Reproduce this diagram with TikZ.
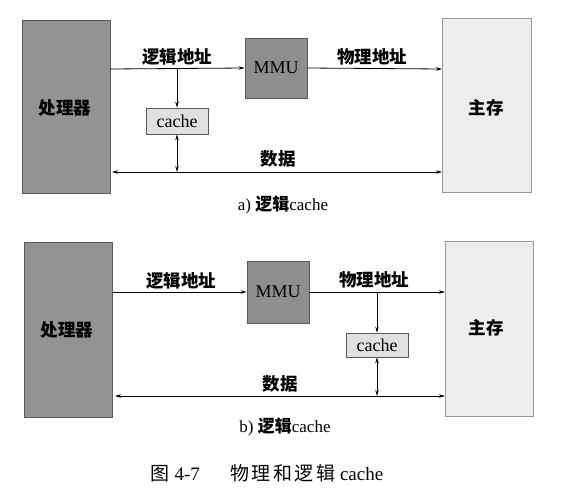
\documentclass[tikz,border=0pt]{standalone}
\usepackage{fontspec}
\setmainfont{Liberation Serif}
\newfontfamily\cjk{Noto Sans CJK SC}
\usetikzlibrary{arrows.meta}
\definecolor{dark}{HTML}{939393}
\definecolor{mmuc}{HTML}{8E8E8E}
\definecolor{light}{HTML}{EDEDED}
\definecolor{cachec}{HTML}{E0E0E0}
\tikzset{
  x=1pt,y=-1pt,
  proc/.style={draw=gray!70!black,fill=dark,line width=0.7pt},
  mem/.style={draw=gray!80,fill=light,line width=0.7pt},
  mmu/.style={draw=gray!70!black,fill=mmuc,line width=0.7pt},
  cbox/.style={draw=gray!70!black,fill=cachec,line width=0.7pt},
  conn/.style={line width=0.8pt,-{Stealth[length=6pt,width=3.5pt]}},
  biconn/.style={line width=0.8pt,{Stealth[length=6pt,width=3.5pt]}-{Stealth[length=6pt,width=3.5pt]}},
  lbl/.style={font=\fontsize{17.5}{19}\selectfont\cjk\bfseries},
  boxlbl/.style={font=\fontsize{17.5}{19}\selectfont\cjk\bfseries},
  lat/.style={font=\fontsize{18}{20}\selectfont},
  captxt/.style={font=\fontsize{17}{19}\selectfont},
}
\begin{document}
\begin{tikzpicture}
\useasboundingbox (0,0) rectangle (561,488);
% ---- a) ----
\path[proc] (22,20) rectangle (110,193);
\node[boxlbl] (pa) at (65,108) {处理器};
\coordinate (paR) at (110,69);
\coordinate (paRd) at (112,172);
\path[mem] (442,18) rectangle (531,192);
\node[boxlbl] (ma) at (486,108) {主存};
\coordinate (maL) at (442,69);
\coordinate (maLd) at (442,172);
\node[mmu,minimum width=62pt,minimum height=60pt,lat] (mmua) at (276,68) {MMU};
\node[cbox,minimum width=62pt,minimum height=26pt,lat] (ca) at (177,121) {cache};
\coordinate (ja) at (177,69);
\coordinate (jda) at (177,172);
\draw[conn] (paR) -- (mmua.west);
\draw[conn] (mmua.east) -- (maL);
\draw[conn] (ja) -- (ca.north);
\draw[biconn] (ca.south) -- (jda);
\draw[biconn] (paRd) -- (maLd);
\node[lbl] (la) at (177,57) {逻辑地址};
\node[lbl] (pha) at (372,57) {物理地址};
\node[lbl] (da) at (278,159) {数据};
\node[captxt] (capa) at (283,205) {a) {\cjk\bfseries 逻辑}cache};
% ---- b) ----
\path[proc] (24,242) rectangle (112,417);
\node[boxlbl] (pb) at (67,330) {处理器};
\coordinate (pbR) at (112,292);
\coordinate (pbRd) at (115,396);
\path[mem] (445,241) rectangle (533,416);
\node[boxlbl] (mb) at (486,328) {主存};
\coordinate (mbL) at (445,292);
\coordinate (mbLd) at (445,396);
\node[mmu,minimum width=62pt,minimum height=62pt,lat] (mmub) at (278,292) {MMU};
\node[cbox,minimum width=62pt,minimum height=24pt,lat] (cb) at (377,345) {cache};
\coordinate (jb) at (377,292);
\coordinate (jdb) at (377,396);
\draw[conn] (pbR) -- (mmub.west);
\draw[conn] (mmub.east) -- (mbL);
\draw[conn] (jb) -- (cb.north);
\draw[biconn] (cb.south) -- (jdb);
\draw[biconn] (pbRd) -- (mbLd);
\node[lbl] (lb) at (181,281) {逻辑地址};
\node[lbl] (phb) at (374,280) {物理地址};
\node[lbl] (db) at (280,384) {数据};
\node[captxt] (capb) at (285,427) {b) {\cjk\bfseries 逻辑}cache};
\node[font=\fontsize{19}{21}\selectfont] (fig) at (267,473) {{\cjk 图} 4-7\hspace{1.6em}{\cjk 物\hspace{2.5pt}理\hspace{2.5pt}和\hspace{2.5pt}逻\hspace{2.5pt}辑} cache};
\end{tikzpicture}
\end{document}
